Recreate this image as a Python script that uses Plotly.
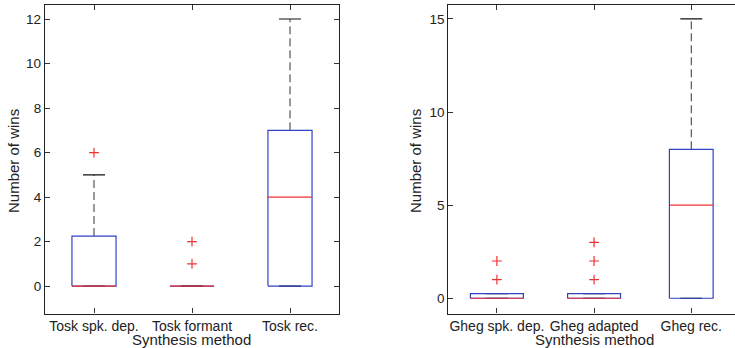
import plotly.graph_objects as go

# ---------------- data ----------------
tosk_labels = ["Tosk spk. dep.", "Tosk formant", "Tosk rec."]
tosk_q1 = [0, 0, 0]
tosk_median = [0, 0, 4]
tosk_q3 = [2.25, 0, 7]
tosk_lower = [0, 0, 0]
tosk_upper = [5, 0, 12]
tosk_outliers = [[6], [1, 2], []]
tosk_boxwidth = [0.45, 0.45, 0.45]

gheg_labels = ["Gheg spk. dep.", "Gheg adapted", "Gheg rec."]
gheg_q1 = [0, 0, 0]
gheg_median = [0, 0, 5]
gheg_q3 = [0.25, 0.25, 8]
gheg_lower = [0, 0, 0]
gheg_upper = [0.25, 0.25, 15]
gheg_outliers = [[1, 2], [1, 2, 3], []]
gheg_boxwidth = [0.545, 0.545, 0.45]

tosk_yticks = [0, 2, 4, 6, 8, 10, 12]
gheg_yticks = [0, 5, 10, 15]

# ---------------- styles ----------------
BLUE = "#2f43c4"
RED = "#ee3333"
WHISK = "#333333"
FONT = "Liberation Sans, Arial, sans-serif"
W, H = 735, 348

fig = go.Figure()


def add_panel(xa, ya, labels, q1, med, q3, lo, up, outs, widths):
    for i in range(len(labels)):
        p = i + 1
        w = widths[i]
        cw = 0.225
        # whiskers (dashed)
        fig.add_trace(go.Scatter(x=[p, p], y=[q3[i], up[i]], mode="lines",
                                 line=dict(color=WHISK, width=1, dash="8px,4px"),
                                 xaxis=xa, yaxis=ya, showlegend=False, hoverinfo="skip"))
        fig.add_trace(go.Scatter(x=[p, p], y=[lo[i], q1[i]], mode="lines",
                                 line=dict(color=WHISK, width=1, dash="8px,4px"),
                                 xaxis=xa, yaxis=ya, showlegend=False, hoverinfo="skip"))
        # caps
        for v in (lo[i], up[i]):
            fig.add_trace(go.Scatter(x=[p - cw / 2, p + cw / 2], y=[v, v], mode="lines",
                                     line=dict(color="#111111", width=1.2),
                                     xaxis=xa, yaxis=ya, showlegend=False, hoverinfo="skip"))
        # box
        fig.add_trace(go.Scatter(x=[p - w / 2, p + w / 2, p + w / 2, p - w / 2, p - w / 2],
                                 y=[q1[i], q1[i], q3[i], q3[i], q1[i]], mode="lines",
                                 line=dict(color=BLUE, width=1.2),
                                 xaxis=xa, yaxis=ya, showlegend=False, hoverinfo="skip"))
        # median
        fig.add_trace(go.Scatter(x=[p - w / 2, p + w / 2], y=[med[i], med[i]], mode="lines",
                                 line=dict(color=RED, width=1.2),
                                 xaxis=xa, yaxis=ya, showlegend=False, hoverinfo="skip"))
        # outliers
        if outs[i]:
            fig.add_trace(go.Scatter(x=[p] * len(outs[i]), y=outs[i], mode="markers",
                                     marker=dict(symbol="cross-thin", size=7,
                                                 line=dict(color=RED, width=1.2)),
                                     xaxis=xa, yaxis=ya, showlegend=False, hoverinfo="skip"))


add_panel("x", "y", tosk_labels, tosk_q1, tosk_median, tosk_q3, tosk_lower, tosk_upper,
          tosk_outliers, tosk_boxwidth)
add_panel("x2", "y2", gheg_labels, gheg_q1, gheg_median, gheg_q3, gheg_lower, gheg_upper,
          gheg_outliers, gheg_boxwidth)

xtickfont = dict(family=FONT, size=14, color="#222222")
ytickfont = dict(family=FONT, size=13.5, color="#222222")
common = dict(showgrid=False, zeroline=False, showline=True, linecolor="#222222", linewidth=1.3,
              ticks="inside", ticklen=5, tickcolor="#333333", tickwidth=1)

ydom = [1 - 313.5 / H, 1 - 5 / H]

fig.update_layout(
    width=W, height=H,
    margin=dict(l=0, r=0, t=0, b=0),
    paper_bgcolor="white", plot_bgcolor="white",
    xaxis=dict(domain=[45 / W, 339 / W], range=[0.5, 3.5], tickvals=[1, 2, 3],
               ticktext=tosk_labels, mirror="ticks", anchor="y", tickfont=xtickfont, **common),
    yaxis=dict(domain=ydom, range=[-1.23, 12.63], tickvals=tosk_yticks, mirror="ticks",
               anchor="x", tickfont=ytickfont, **common),
    xaxis2=dict(domain=[448.3 / W, 1.0], range=[0.5, 3.45], tickvals=[1, 2, 3],
                ticktext=gheg_labels, mirror="ticks", anchor="y2", tickfont=xtickfont, **common),
    yaxis2=dict(domain=ydom, range=[-0.82, 15.75], tickvals=gheg_yticks, mirror=False,
                anchor="x2", tickfont=ytickfont, **common),
)

titlefont = dict(family=FONT, size=15, color="#222222")
anns = [
    dict(text="Number of wins", x=13 / W, y=1 - 161 / H, textangle=-90),
    dict(text="Synthesis method", x=191 / W, y=1 - 339 / H, textangle=0),
    dict(text="Number of wins", x=415 / W, y=1 - 161 / H, textangle=-90),
    dict(text="Synthesis method", x=594 / W, y=1 - 339 / H, textangle=0),
]
for a in anns:
    fig.add_annotation(xref="paper", yref="paper", showarrow=False, font=titlefont,
                       xanchor="center", yanchor="middle", **a)

fig.write_html("out.html")
